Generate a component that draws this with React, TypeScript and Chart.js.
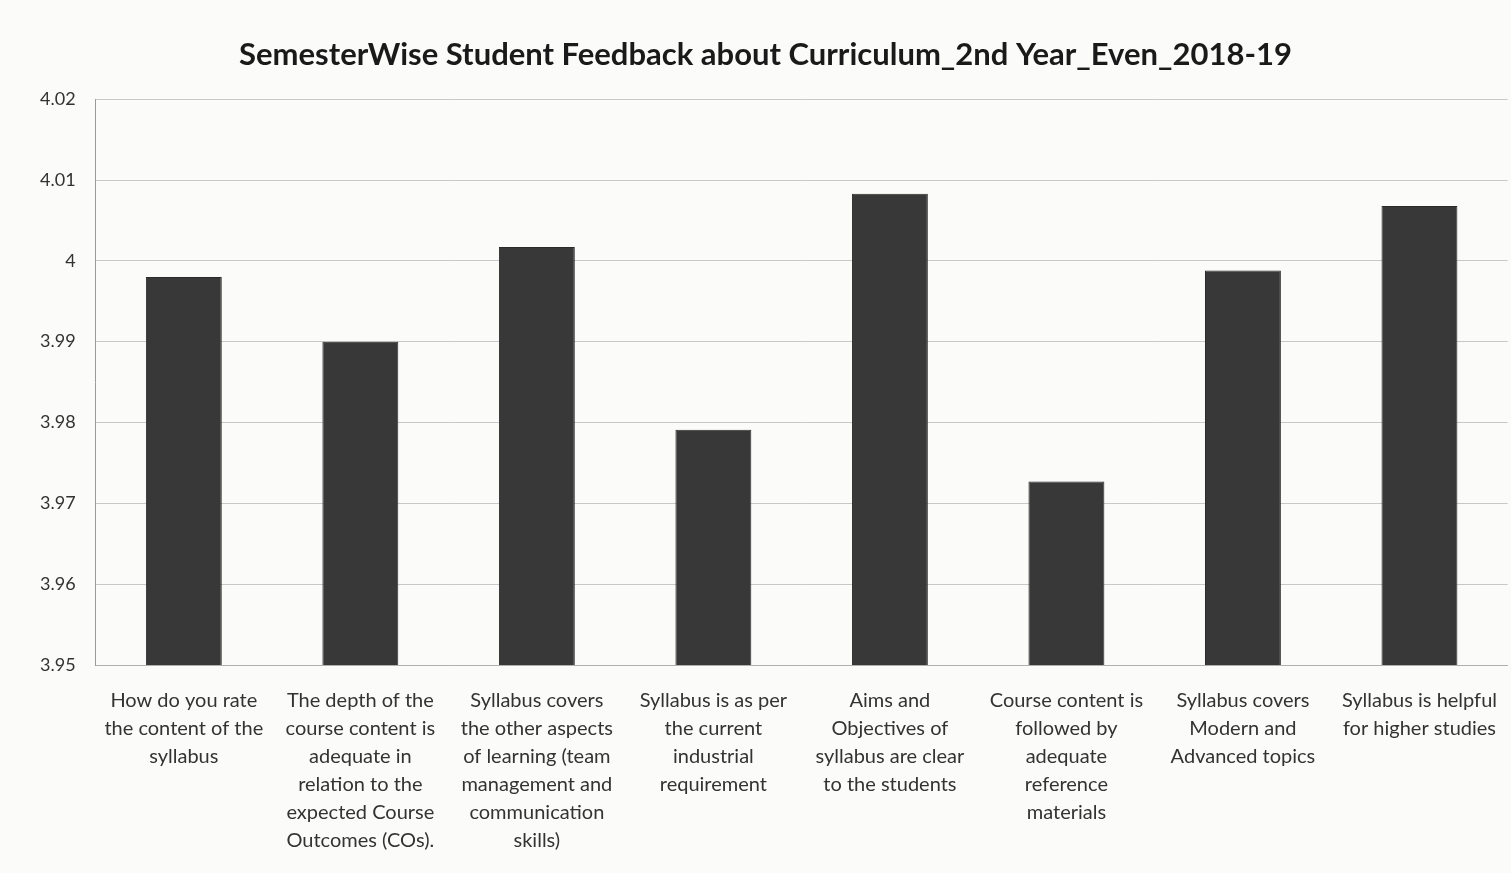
import React, { useEffect, useRef } from "react";
import { Chart, registerables } from "chart.js";

Chart.register(...registerables);

const categories: string[][] = [
  ["How do you rate", "the content of the", "syllabus"],
  ["The depth of the", "course content is", "adequate in", "relation to the", "expected Course", "Outcomes (COs)."],
  ["Syllabus covers", "the other aspects", "of learning (team", "management and", "communication", "skills)"],
  ["Syllabus is as per", "the current", "industrial", "requirement"],
  ["Aims and", "Objectives of", "syllabus are clear", "to the students"],
  ["Course content is", "followed by", "adequate", "reference", "materials"],
  ["Syllabus covers", "Modern and", "Advanced topics"],
  ["Syllabus is helpful", "for higher studies"],
];

const values: number[] = [3.998, 3.990, 4.0017, 3.9791, 4.0083, 3.9727, 3.9988, 4.0068];

const yMin = 3.95;
const yMax = 4.02;
const yStep = 0.01;

const titleText = "SemesterWise Student Feedback about Curriculum_2nd Year_Even_2018-19";

export default function App() {
  const ref = useRef<HTMLCanvasElement | null>(null);

  useEffect(() => {
    document.body.style.margin = "0";
    const canvas = ref.current;
    if (!canvas) return;
    const chart = new Chart(canvas, {
      type: "bar",
      data: {
        labels: categories,
        datasets: [
          {
            label: "Feedback",
            data: values,
            backgroundColor: "#383838",
            borderColor: "#2a2a2a",
            borderWidth: 1,
            barPercentage: 0.43,
            categoryPercentage: 1,
          },
        ],
      },
      options: {
        responsive: false,
        animation: false,
        layout: { padding: { left: 20, right: 0, top: 0, bottom: 4 } },
        plugins: {
          legend: { display: false },
          tooltip: { enabled: false },
          title: {
            display: true,
            text: titleText,
            color: "#1a1a1a",
            font: { family: "Lato", size: 31, weight: "bold" },
            padding: { top: 36, bottom: 26 },
          },
        },
        scales: {
          x: {
            grid: { display: false },
            border: { display: true, color: "#b0b0b0" },
            ticks: {
              color: "#333",
              font: { family: "Lato", size: 20, lineHeight: 1.4 },
              maxRotation: 0,
              autoSkip: false,
              padding: 14,
            },
          },
          y: {
            min: yMin,
            max: yMax,
            ticks: {
              stepSize: yStep,
              color: "#333",
              font: { family: "Lato", size: 18 },
              padding: 20,
              callback: (v: any) => String(Number(Number(v).toFixed(2))),
            },
            grid: { color: "#c8c8c8", drawTicks: false },
            border: { display: true, color: "#9a9a9a" },
          },
        },
      },
    });
    return () => chart.destroy();
  }, []);

  return (
    <div style={{ position: "absolute", left: 0, top: 0, width: 1511, height: 873, background: "#fbfbfa" }}>
      <canvas ref={ref} width={1511} height={873} />
    </div>
  );
}
